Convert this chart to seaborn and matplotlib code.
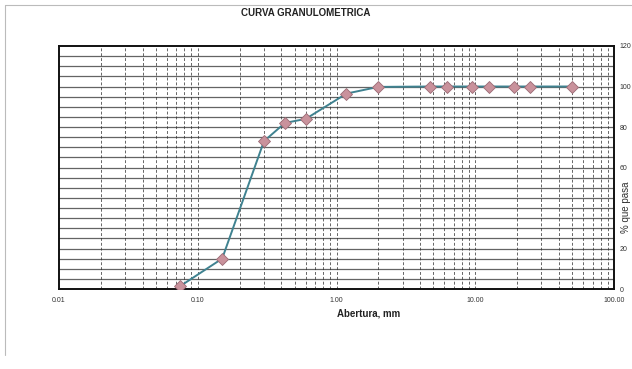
import matplotlib
matplotlib.use("Agg")
import matplotlib.pyplot as plt
import seaborn as sns
import numpy as np
import pandas as pd
from matplotlib.lines import Line2D

# Data
aberturas = [0.075, 0.15, 0.30, 0.425, 0.60, 1.18, 2.00, 4.75, 6.30, 9.50, 12.50, 19.00, 25.00, 50.00]
pasa = [1.5, 15.0, 73.0, 82.0, 84.0, 96.5, 99.8, 100.0, 100.0, 100.0, 100.0, 100.0, 100.0, 100.0]
x_ticks = [0.01, 0.1, 1, 10, 100]
x_tick_labels = ["0.01", "0.10", "1.00", "10.00", "100.00"]
y_ticks = [0, 20, 40, 60, 80, 100, 120]
y_tick_labels = ["0", "20", "", "60", "80", "100", "120"]
title = "CURVA GRANULOMETRICA"
xlabel = "Abertura, mm"
ylabel = "% que pasa"

df = pd.DataFrame({"abertura": aberturas, "pasa": pasa})

sns.set_style("white")
plt.rcParams["font.family"] = ["Liberation Sans", "DejaVu Sans"]

W, H = 632, 369
fig = plt.figure(figsize=(W / 100, H / 100), dpi=100)
fig.patch.set_facecolor("white")
ax = fig.add_axes([59 / W, 1 - 289 / H, (614 - 59) / W, (289 - 46) / H])

ax.set_xscale("log")
ax.set_xlim(0.01, 100)
ax.set_ylim(0, 120)

# grid: horizontal every 5 %
for yv in np.arange(5, 120, 5):
    ax.axhline(yv, color="#222222", lw=0.9, alpha=0.7, zorder=1)
# vertical log grid
for dec in [0.01, 0.1, 1, 10]:
    for m in range(1, 10):
        xv = dec * m
        if xv <= 0.01 or xv >= 100:
            continue
        ax.axvline(xv, color="#333333", lw=0.7, ls=(0, (3, 2)), alpha=0.75, zorder=1)

sns.lineplot(data=df, x="abertura", y="pasa", ax=ax, color="#3f8290", lw=1.4,
             marker="D", markersize=6.5, markerfacecolor="#c9929c",
             markeredgecolor="#9a6a74", markeredgewidth=0.6, zorder=3)

ax.set_xticks(x_ticks)
ax.set_xticklabels(x_tick_labels)
ax.xaxis.set_minor_locator(matplotlib.ticker.NullLocator())
ax.yaxis.tick_right()
ax.set_yticks(y_ticks)
ax.set_yticklabels(y_tick_labels)
ax.tick_params(axis="both", length=0, labelsize=5, colors="#333333", pad=6)
ax.tick_params(axis="y", pad=4)

for s in ax.spines.values():
    s.set_color("#111111")
    s.set_linewidth(1.4)

ax.set_xlabel("")
ax.set_ylabel("")

fig.text(306 / W, 1 - 13 / H, title, ha="center", va="center",
         fontsize=7, fontweight="bold", color="#222222")
fig.text(369 / W, 1 - 313 / H, xlabel, ha="center", va="center",
         fontsize=7, fontweight="bold", color="#222222")
fig.text(626 / W, 1 - 207 / H, ylabel, ha="center", va="center",
         rotation=90, fontsize=7, color="#333333")

# scan frame lines
fig.add_artist(Line2D([5 / W, 1], [1 - 5 / H, 1 - 5 / H], color="#bbbbbb", lw=0.8))
fig.add_artist(Line2D([5 / W, 5 / W], [1 - 5 / H, 1 - 355 / H], color="#bbbbbb", lw=0.8))

fig.savefig("out.png", dpi=100, facecolor="white")
